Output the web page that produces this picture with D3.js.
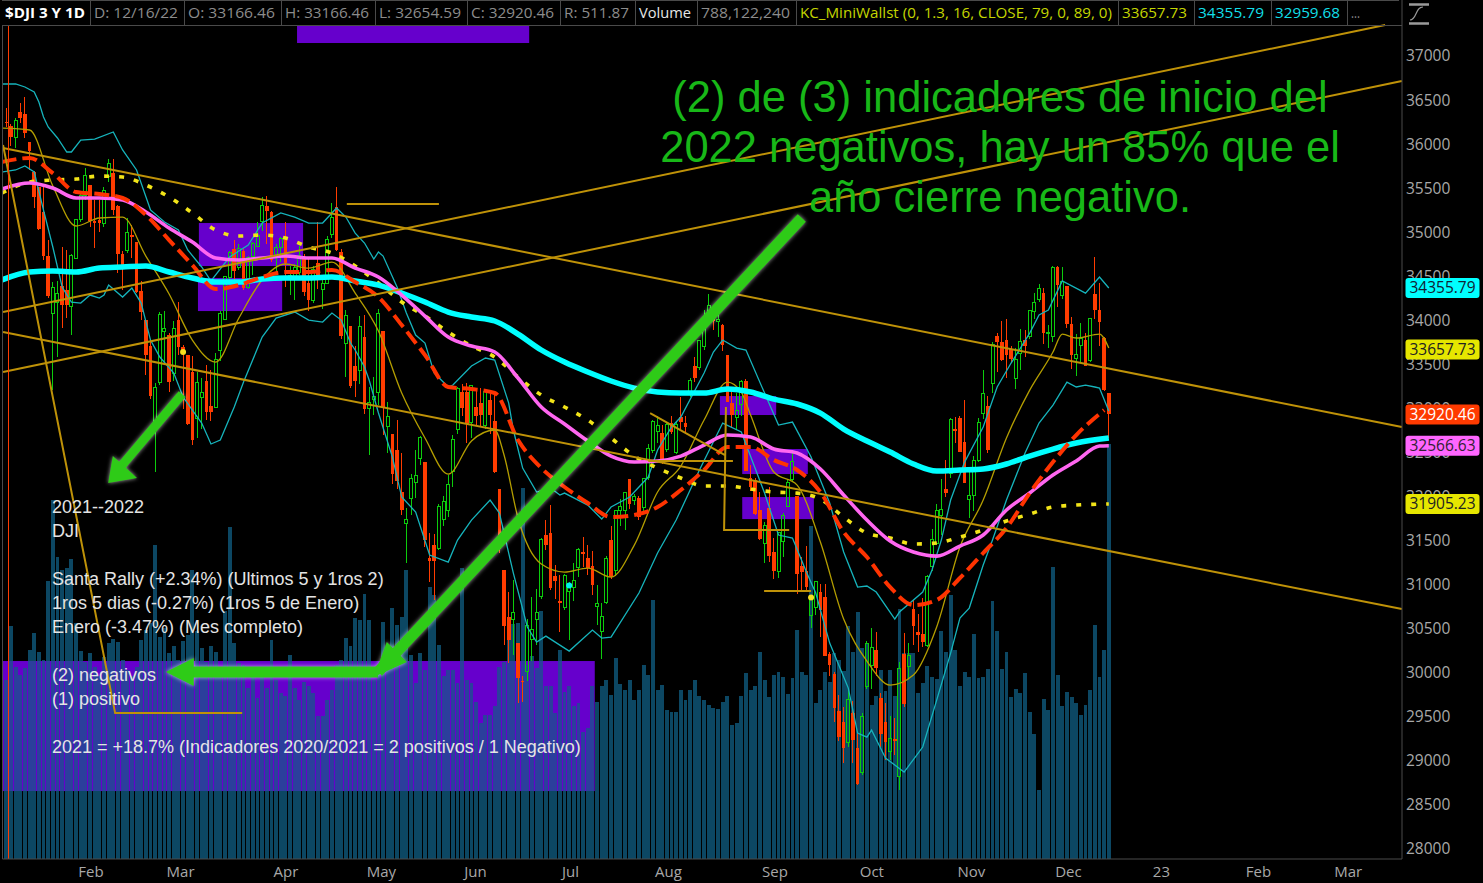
<!DOCTYPE html>
<html><head><meta charset="utf-8">
<script src="https://cdn.jsdelivr.net/npm/d3@7"></script>
<style>
html,body{margin:0;padding:0;background:#000;overflow:hidden}
svg{display:block}
text{font-family:"Open Sans",sans-serif}
</style></head><body><svg id="c" width="1483" height="883"></svg>
<script>
// ---- daily candles (index 0 = first visible session, 237 = 12/16/22) ----
const opens=[36240,36190,36060,36350,36330,36010,35670,35500,35215,34715,
34070,34190,34380,34330,34140,34690,35130,35400,35530,35120,
35130,35090,35620,35660,35290,34740,34780,34960,34880,34320,
33990,33700,32845,33280,33860,33820,33390,33990,33690,33600,
33400,32870,33115,33300,33020,33000,33650,34000,34480,34800,
34590,34770,34360,34710,34830,35110,35290,35220,34720,34810,
34900,34480,34480,34530,34700,34410,34210,34640,34340,34410,
34960,35280,34760,33730,33920,33470,33420,33800,32990,33090,
33170,33870,32780,32700,32520,32040,31680,31970,32150,32420,
32380,31290,31440,31400,31730,31830,32270,32750,33180,33180,
32830,33000,33050,32790,33080,32850,32070,31160,30620,30590,
30330,29900,30000,30370,30590,30850,31550,31570,31090,30800,
30730,30910,30960,31180,31360,31290,31200,30740,30460,30790,
31500,31150,31830,31830,32190,31940,31970,31870,32200,32510,
32730,32710,32520,32820,32490,32890,32820,33170,33470,33450,
33690,34010,34040,33980,33940,33600,33050,32890,33030,33300,
32200,32180,31840,31460,31860,31360,31140,31480,31880,32180,
32000,31200,31140,30640,30730,30910,30850,30200,29970,29550,
29430,29200,29530,29130,28860,29830,30070,30250,29700,29430,
29090,29240,28810,30200,30060,30710,30450,30430,30300,31190,
31460,31770,32075,32250,32760,32880,32610,31960,32000,32400,
32930,33020,33270,33810,33740,33770,33660,33330,33610,33770,
33800,34090,34220,34300,33840,33800,34590,34270,34380,33950,
33560,33700,33770,33530,34290,34110,33790,33166];
const highs=[36400,36220,36290,36460,36520,36010,35680,35500,35500,34900,
34420,34440,34820,34790,34740,35140,35420,35720,35530,35350,
35350,35500,35820,35820,35300,34770,35150,35070,34880,34430,
33990,33780,33280,34080,34100,33850,33980,34200,33710,33600,
33580,33400,33330,33480,33420,33620,34100,34490,34770,34900,
34850,34800,34720,34880,35100,35390,35400,35230,34860,34930,
35100,34600,34630,34830,34740,34700,34600,35100,34480,34950,
35320,35500,34800,34110,33930,33700,34040,34050,33230,33340,
34120,33870,33060,32700,32860,32480,31858,32250,32520,32680,
32380,31570,31560,31900,32000,32230,32690,33230,33270,33280,
33250,33200,33220,33190,33200,33140,32070,31160,30900,31040,
30330,29950,30600,30850,30940,31520,31720,31890,31210,31100,
31110,31020,31240,31400,31530,31440,31370,30980,30780,31310,
31650,31840,31960,32040,32190,32020,32000,32200,32580,32860,
32900,32800,32830,32900,32850,33120,32900,33330,33570,33770,
34110,34290,34130,34100,33950,33600,33180,33160,33310,33320,
32350,32200,32040,31700,32100,31520,31580,31800,32180,32520,
32000,31300,31430,30830,31020,31000,31000,30230,30000,29740,
29600,29800,29670,29300,29530,30350,30500,30450,29760,29650,
29500,29470,30110,30440,30330,30810,30660,30840,31100,31620,
31900,32190,32400,32880,32890,32900,33090,32270,32450,32880,
33430,33130,33740,33840,33980,34000,33700,33680,33890,33880,
34110,34300,34400,34350,33935,34600,34600,34595,34380,34030,
33830,33960,33850,34010,34712,34410,33800,33166];
const lows=[36180,35965,35950,36230,36060,35690,35260,35010,34670,34240,
33200,33570,33900,34020,33820,34680,35100,35350,35050,34810,
34990,35050,35560,35180,34530,34330,34750,34700,34300,33990,
33370,33100,32272,33250,33500,33170,33300,33600,32980,32800,
32570,32650,32760,32860,32850,32990,33530,33990,34420,34400,
34560,34330,34340,34500,34820,35000,34850,34650,34540,34650,
34370,34276,34220,34500,34270,34100,34190,34340,34120,34400,
34920,34780,33780,33340,33220,33120,33270,32920,32460,32910,
33030,32690,32480,32130,32070,31780,31235,31780,31970,32350,
31420,31020,30810,31380,31650,31760,32100,32700,32900,32600,
32650,32800,32780,32760,32700,32260,31350,30300,30100,30190,
29650,29653,29890,30120,30300,30830,31380,30930,30830,30450,
30700,30360,30800,31080,31190,31100,30870,30530,30140,30770,
31050,31090,31660,31610,31850,31890,31720,31820,32180,32480,
32600,32360,32500,32700,32470,32760,32700,33120,33290,33430,
33650,33990,33880,33800,33640,33060,32770,32740,32900,32280,
32050,31780,31500,31230,31250,31050,31060,31300,31880,32160,
30880,30900,30900,30500,30640,30400,30180,29950,29430,29220,
28960,29150,28970,28715,28830,29800,29800,29950,29150,29000,
29000,29050,28660,29600,29920,30300,30220,30280,30280,31140,
31440,31550,31980,32200,32600,32500,32140,31750,31820,32380,
32870,32480,33160,33400,33530,33330,33500,33210,33430,33570,
33780,34000,34200,33720,33670,33740,34140,34230,33900,33440,
33360,33500,33470,33520,34000,33700,33190,32654];
const closes=[36231,36068,36252,36290,36113,35911,35385,35030,34715,34265,
34364,34297,34168,34160,34725,35131,35405,35629,35111,35089,
35091,35462,35768,35241,34738,34566,34988,34934,34312,34079,
33596,33131,33223,34058,33892,33294,33891,33690,33614,32817,
32632,33286,33174,32944,32945,33544,34063,34481,34754,34552,
34807,34358,34707,34861,34955,35294,35228,34678,34818,34921,
34641,34496,34583,34721,34308,34221,34565,34451,34411,34911,
35160,34792,33811,34049,33240,33301,33916,32977,33061,33128,
34061,32997,32899,32245,32160,31834,31730,32197,32223,32654,
31490,31253,31262,31880,31928,32120,32637,33213,32990,32813,
33248,32899,32915,33180,32910,32272,31392,30516,30364,30668,
29927,29888,30530,30483,30677,31500,31438,30946,31029,30775,
31097,30967,31037,31384,31338,31173,30981,30772,30630,31288,
31072,31827,31874,32036,31899,31990,31761,32197,32529,32845,
32798,32396,32812,32726,32803,32832,32774,33309,33336,33761,
33912,34152,33980,33999,33706,33063,32909,32969,33291,32283,
32098,31790,31510,31656,31318,31145,31581,31774,32151,32381,
31105,31135,30961,30822,31019,30706,30184,30077,29590,29260,
29134,29683,29225,28725,29490,30316,30274,30038,29296,29202,
29239,29210,30038,29634,30185,30523,30423,30333,31082,31499,
31836,31839,32033,32861,32733,32500,32148,32001,32403,32827,
33160,32513,33715,33747,33536,33592,33553,33546,33745,33700,
34098,34194,34347,33849,33853,34589,34395,34430,33947,33596,
33597,33781,33476,34005,34108,33966,33202,32920];
// volume in millions
const volumes=[340,443,365,350,362,397,429,393,378,527,
682,574,549,552,570,448,395,375,391,365,
347,384,410,418,412,378,359,347,365,416,
435,448,597,422,438,391,404,378,414,426,
549,432,400,375,404,394,365,470,630,410,
372,369,324,353,305,347,324,416,340,315,
309,388,324,302,337,328,315,271,271,302,
321,369,378,419,404,457,454,503,454,340,
365,450,397,476,445,460,548,388,334,391,
359,517,502,407,347,359,359,334,552,340,
334,299,258,274,274,290,365,375,416,447,
448,704,369,385,362,470,328,328,277,397,
318,328,290,296,242,248,328,299,328,339,
312,381,333,321,340,302,321,369,350,492,
321,331,283,279,279,321,302,321,340,310,
302,293,287,285,299,310,255,258,310,353,
321,329,393,340,307,350,356,345,314,344,
435,356,350,632,296,321,356,337,391,378,
357,442,394,469,400,410,293,310,359,319,
359,309,475,391,391,391,316,335,366,345,
342,432,394,502,396,328,356,346,427,343,
345,360,490,432,360,393,307,322,315,353,
279,238,131,303,283,554,350,291,317,307,
296,274,293,321,445,346,396,788];
// moving averages sampled every few sessions
const maIdx=[-1,5,10,15,20,25,30,35,40,45,50,55,60,65,70,75,80,85,90,95,100,105,110,115,120,125,130,135,140,145,150,155,160,165,170,175,180,185,190,195,200,205,210,215,220,225,230];
const sma200=[34446,34537,34548,34537,34582,34594,34605,34537,34469,34423,34423,34457,34469,34469,34480,34435,34389,34299,34196,34083,34026,33981,33833,33652,33515,33402,33300,33220,33175,33163,33163,33209,33175,33095,33039,32936,32755,32619,32494,32358,32278,32289,32301,32358,32448,32528,32596,32653];
const sma100=[35479,35547,35490,35377,35377,35354,35218,35036,34877,34696,34673,34696,34718,34696,34696,34582,34480,34276,34037,33799,33697,33629,33334,33005,32812,32619,32448,32380,32392,32448,32573,32687,32664,32528,32483,32301,32006,31722,31484,31359,31313,31427,31552,31836,32029,32233,32392,32562,32566];
const sma150=[35433,35558,35581,35592,35626,35615,35524,35388,35207,35014,34945,34957,34923,34821,34752,34605,34412,34196,34037,33856,33697,33572,33345,33141,33005,32857,32653,32448,32312,32199,32108,32108,32074,32040,32028,31960,31756,31574,31518,31450,31461,31529,31609,31711,31790,31870,31892,31905];
const ema50=[35785,35831,35660,35445,35422,35377,35184,34900,34616,34344,34389,34480,34537,34537,34560,34423,34253,33935,33595,33232,33209,33164,32630,32312,32097,31915,31756,31779,31870,32063,32290,32551,32551,32403,32290,32040,31586,31302,30961,30757,30814,31064,31348,31631,32029,32380,32687,32970];
const sma200Last=[237], sma100Last=[235,237], sma150Last=[237], ema50Last=[236];
// Keltner channel
const midIdx=[-1,5,10,15,20,25,30,35,40,45,50,55,60,65,70,75,80,85,90,95,100,105,107,110,115,120,125,130,135,140,145,150,155,158,160,165,170,175,180,185,190,195,200,205,210,215,220,225,227,230,235,237];
const kcMid=[36171,36149,35513,35059,35150,35161,34718,34287,33765,33515,34015,34446,34628,34582,34650,34298,33867,33163,32653,32244,32619,32744,32460,31745,31223,31132,31177,31075,31438,32040,32335,32857,33288,33175,32914,32267,32119,31472,30598,30122,29849,29963,30508,31416,31949,32653,33197,33629,33833,33788,33833,33674];
const upIdx=[-1,2,4,6,7,8,9,11,13,14,16,19,23,25,28,31,34,37,39,42,44,48,52,55,59,62,65,68,71,73,75,77,79,80,81,84,86,88,90,92,95,96,100,103,105,108,109,111,114,117,119,120,125,128,130,134,138,140,143,145,150,152,154,157,159,163,166,169,173,177,180,183,185,187,191,192,197,199,201,203,206,210,213,216,220,222,224,227,232,235,237];
const kcUpper=[36671,36671,36637,36580,36466,36296,36183,36058,35899,35899,36035,36046,36126,35922,35695,35241,35104,35014,34787,34594,34435,34707,34843,35093,35207,35161,35093,35093,35263,35161,34979,34866,34684,34764,34718,34367,34071,33822,33731,33390,33232,33254,33470,33561,33538,33050,32744,32312,32040,32085,32006,32028,31892,31733,31870,31983,32210,32517,32778,32891,33390,33629,33765,33674,33652,33163,32800,32834,32437,31915,31359,30961,30973,30905,30598,30678,30905,31155,31495,31949,32380,32778,33232,33504,33844,34049,34105,34435,34298,34480,34356];
const lowIdx=[-1,2,4,6,8,10,12,14,16,18,20,21,22,25,27,29,31,33,36,38,42,44,46,49,51,55,58,62,65,68,70,72,74,75,77,78,80,83,85,88,91,95,97,100,104,106,109,112,114,116,121,126,128,130,136,140,144,149,154,158,163,166,169,172,174,177,181,183,185,186,189,193,197,200,203,205,207,210,212,215,219,222,225,228,230,232,234,235,237];
const kcLower=[35672,35695,35740,35672,35240,34821,34367,34196,34185,34276,34242,34276,34389,34253,34355,34185,33765,33572,33390,33118,32823,32585,32630,33005,33288,33799,34015,34083,33992,33969,34071,33992,33731,33652,33459,33311,32937,32437,31983,31813,31325,31245,31495,31722,31949,31802,31120,30508,30337,30405,30235,30474,30383,30394,30894,31348,31722,32290,32823,32721,32028,31552,31518,31132,30894,30326,29815,29305,29259,29339,29021,28862,29146,29679,30212,30610,30723,31211,31495,31949,32483,32823,33027,33288,33232,33254,33232,33220,32960];
// axis
const priceTicks=d3.range(28000,37001,500);
const monthIdx=[16,35,58,78,99,120,140,163,184,205,226,247,267,286];
const monthLabels=["Feb","Mar","Apr","May","Jun","Jul","Aug","Sep","Oct","Nov","Dec","23","Feb","Mar"];
// header cells
const headTxt=["$DJI 3 Y 1D","D: 12/16/22","O: 33166.46","H: 33166.46","L: 32654.59","C: 32920.46","R: 511.87","Volume","788,122,240","KC_MiniWallst (0, 1.3, 16, CLOSE, 79, 0, 89, 0)","33657.73","34355.79","32959.68","..."];
const headStart=[5,94,188,285,379,471,564,639,701,800,1122,1198,1275,1351];
const headEnd=[85,178,275,369,461,554,629,691,790,1112,1187,1264,1340,1360];
const headCol=["#fff","#8c8c8c","#8c8c8c","#8c8c8c","#8c8c8c","#8c8c8c","#8c8c8c","#e6e6e6","#8c8c8c","#c4d600","#c4d600","#12dfe8","#12dfe8","#8c8c8c"];
const headSep=[90,184,281,375,467,560,635,697,796,1118,1194,1271,1347];
// price badges
const badgeVal=[34355.79,33657.73,32920.46,32566.63,31905.23];
const badgeBg=["#00ffff","#e6e600","#ff3a00","#ff66ff","#e6e600"];
const badgeFg=["#123","#222","#fff","#323","#222"];
// drawings (bar index, price)
const goldLines=[
 [[-0.7,35944],[300,32778]],[[-0.7,33856],[300,30712]],
 [[-0.7,34083],[296.4,37340]],[[-0.7,33402],[300,36705]],
 [[-0.7,35978],[23.4,29531],[50.7,29531]],[[73.2,35309],[93,35309]],
 [[138.4,32936],[154.5,32460]],[[138,32392],[156.2,32392]],
 [[154.7,33005],[154.3,31608],[168.3,31608]],[[162.9,30916],[173,30916]]];
const boxK0=[62.5,41.4,41.2,153.4,158.2,158.2];
const boxK1=[112.4,63.8,59.3,165.5,172.3,173.6];
const boxHi=[37340,35093,34469,33129,32528,31983];
const boxLo=[37136,34605,34094,32914,32244,31733];
const bigBox=[-0.9,126.5,30122,28646];
const dotK=[38,173,121], dotP=[33629,30844,30980], dotC=["#f5e020","#f5e020","#00f0f0"];
const arrowShaft=[[[171,35150],[79.9,29997]],[[79.9,29997],[37.3,29997]],[[37.8,33152],[24.9,32346]]];
const arrowHead=[[[79,29940],[81.8,30337],[86.1,30110]],[[34.3,29997],[40.3,30156],[40.3,29838]],[[21.9,32142],[22.9,32448],[28.1,32199]]];
const noteLines=["2021--2022","DJI","Santa Rally (+2.34%) (Ultimos 5 y 1ros 2)","1ros 5 dias (-0.27%) (1ros 5 de Enero)","Enero (-3.47%) (Mes completo)","(2) negativos","(1) positivo","2021 = +18.7% (Indicadores 2020/2021 = 2 positivos / 1 Negativo)"];
const noteP=[31801,31529,30984,30712,30440,29895,29622,29077];
const titleLines=["(2) de (3) indicadores de inicio del","2022 negativos, hay un 85% que el","año cierre negativo."];
const titleP=[36353,35785,35218];

const svg=d3.select("#c");
const x=d3.scaleLinear().domain([0,237]).range([6.3,1108.8]);
const y=d3.scaleLinear().domain([28000,37000]).range([848,55]);
const yv=d3.scaleLinear().domain([0,788]).range([859,444]);
const bottom=859, right=1402;
const g=svg.append("g");

// boxes
g.append("rect").attr("x",x(bigBox[0])).attr("width",x(bigBox[1])-x(bigBox[0])).attr("y",y(bigBox[2])).attr("height",y(bigBox[3])-y(bigBox[2])).attr("fill","#6600cc");
g.selectAll(".box").data(boxK0).join("rect").attr("x",d=>x(d)).attr("width",(d,i)=>x(boxK1[i])-x(d)).attr("y",(d,i)=>y(boxHi[i])).attr("height",(d,i)=>y(boxLo[i])-y(boxHi[i])).attr("fill","#6600cc");

// volume
const barW=3.9;
function bars(sel,col){sel.selectAll("rect").data(volumes).join("rect").attr("x",(d,i)=>x(i)-barW/2).attr("width",barW).attr("y",d=>yv(d)).attr("height",d=>bottom-yv(d)).attr("fill",col).attr("shape-rendering","crispEdges");}
bars(g.append("g"),"#0c4763");
svg.append("clipPath").attr("id","bb").append("rect").attr("x",x(bigBox[0])).attr("width",x(bigBox[1])-x(bigBox[0])).attr("y",y(bigBox[2])).attr("height",y(bigBox[3])-y(bigBox[2]));
bars(g.append("g").attr("clip-path","url(#bb)"),"#2b3f9c");

// candles
const candleG=g.append("g").attr("shape-rendering","crispEdges");
closes.forEach((c,i)=>{
  const o=opens[i],hi=highs[i],lo=lows[i],up=c>=o,col=up?"#0ccc0c":"#ff3c00";
  const t=Math.max(o,c),b=Math.min(o,c),px=x(i);
  candleG.append("line").attr("x1",px).attr("x2",px).attr("y1",y(hi)).attr("y2",y(t)).attr("stroke",col);
  candleG.append("line").attr("x1",px).attr("x2",px).attr("y1",y(b)).attr("y2",y(lo)).attr("stroke",col);
  const h=Math.max(1.5,y(b)-y(t));
  if(up) candleG.append("rect").attr("x",px-1.5).attr("width",3).attr("y",y(t)).attr("height",h).attr("fill","none").attr("stroke",col);
  else candleG.append("rect").attr("x",px-1.8).attr("width",3.6).attr("y",y(t)).attr("height",h).attr("fill",col);
});

// lines
svg.append("clipPath").attr("id","plot").append("rect").attr("x",3).attr("y",26).attr("width",1399).attr("height",833);
const lines=g.append("g").attr("clip-path","url(#plot)");
const ln=d3.line().x(d=>x(d[0])).y(d=>y(d[1]));
function pairs(ix,vals){return ix.map((k,i)=>[k,vals[i]]);}
function draw(par,data,col,w,dash,cv){const p=par.append("path").attr("d",ln.curve(cv)(data)).attr("fill","none").attr("stroke",col).attr("stroke-width",w);if(dash)p.attr("stroke-dasharray",dash);}
draw(lines,pairs(upIdx,kcUpper),"#16b4bc",1.3,null,d3.curveLinear);
draw(lines,pairs(lowIdx,kcLower),"#16b4bc",1.3,null,d3.curveLinear);
draw(lines,pairs(midIdx,kcMid),"#b49e00",1.3,null,d3.curveMonotoneX);
draw(lines,pairs(maIdx.concat(sma150Last),sma150),"#f2e418",3.6,"5 10",d3.curveMonotoneX);
draw(lines,pairs(maIdx.concat(sma200Last),sma200),"#00ffff",5.5,null,d3.curveMonotoneX);
draw(lines,pairs(maIdx.concat(sma100Last),sma100),"#ff66f0",3.6,null,d3.curveMonotoneX);
draw(lines,pairs(maIdx.concat(ema50Last),ema50),"#ff3300",4,"15 6",d3.curveMonotoneX);

// trend lines
goldLines.forEach(l=>draw(g,l,"#bf9208",2,null,d3.curveLinear));
// dots
g.selectAll(".dot").data(dotK).join("circle").attr("cx",d=>x(d)).attr("cy",(d,i)=>y(dotP[i])).attr("r",3).attr("fill",(d,i)=>dotC[i]);

// orange vertical
g.append("line").attr("x1",8.5).attr("x2",8.5).attr("y1",25).attr("y2",bottom).attr("stroke","#ff3c00").attr("stroke-width",1);

// frame
g.append("path").attr("d",`M2.5,25V${bottom}H${right}V0`).attr("fill","none").attr("stroke","#4a4a4a");
g.append("path").attr("d",`M2,0.5H${right-3}M2,25.5H${right}`).attr("fill","none").attr("stroke","#4a4a4a");
g.selectAll(".sep").data(headSep).join("line").attr("x1",d=>d+.5).attr("x2",d=>d+.5).attr("y1",0).attr("y2",25).attr("stroke","#4a4a4a");
g.selectAll(".ht").data(headTxt).join("text").attr("x",(d,i)=>headStart[i]).attr("y",18).attr("font-size",15).attr("fill",(d,i)=>headCol[i]).attr("font-weight",(d,i)=>i==0?700:400).attr("textLength",(d,i)=>headEnd[i]-headStart[i]).attr("lengthAdjust","spacingAndGlyphs").text(d=>d);

// axes
const ya=g.append("g").attr("transform",`translate(${right},1)`).call(d3.axisRight(y).tickValues(priceTicks).tickSize(0).tickPadding(4).tickFormat(d3.format("d")));
ya.select(".domain").remove();
ya.selectAll("text").attr("fill","#a8a8a8").attr("font-size",15.5).attr("font-family",'"Open Sans"');
const xa=g.append("g").attr("transform",`translate(0,${bottom+1})`).call(d3.axisBottom(x).tickValues(monthIdx).tickSize(0).tickPadding(6).tickFormat((d,i)=>monthLabels[i]));
xa.select(".domain").remove();
xa.selectAll("text").attr("fill","#a8a8a8").attr("font-size",15).attr("font-family",'"Open Sans"').attr("text-anchor","start").attr("dx",-3);

// icon
g.append("path").attr("d","M1409,4.5H1429M1409,23.5H1429").attr("stroke","#9a9a9a").attr("stroke-width",2.5);
g.append("path").attr("d","M1410,20C1417,20 1415,7 1423,7").attr("fill","none").attr("stroke","#9a9a9a").attr("stroke-width",1.2);

// badges
const bg=g.selectAll(".badge").data(badgeVal).join("g");
bg.append("rect").attr("x",1405.5).attr("width",74).attr("y",d=>y(d)-10).attr("height",20).attr("rx",3).attr("fill",(d,i)=>badgeBg[i]);
bg.append("text").attr("x",1442.5).attr("y",d=>y(d)+5.5).attr("text-anchor","middle").attr("font-size",15.5).attr("fill",(d,i)=>badgeFg[i]).text(d=>d.toFixed(2));

// notes
g.selectAll(".note").data(noteLines).join("text").attr("x",52).attr("y",(d,i)=>y(noteP[i])).attr("font-size",18).attr("fill","#e4e4e4").style("font-family",'"Liberation Sans"').text(d=>d);

// arrows
const arr=g.append("g").style("filter","drop-shadow(0 0 2px rgba(255,255,255,.65))");
arrowShaft.forEach((s,i)=>arr.append("line").attr("x1",x(s[0][0])).attr("y1",y(s[0][1])).attr("x2",x(s[1][0])).attr("y2",y(s[1][1])).attr("stroke","#2ecb17").attr("stroke-width",i==2?9:11));
arrowHead.forEach(h=>arr.append("polygon").attr("points",h.map(p=>x(p[0])+","+y(p[1])).join(" ")).attr("fill","#2ecb17"));

// title
g.selectAll(".title").data(titleLines).join("text").attr("x",1000).attr("y",(d,i)=>y(titleP[i])).attr("text-anchor","middle").attr("font-size",43.5).attr("fill","#18b818").style("font-family",'"Liberation Sans"').text(d=>d);
</script></body></html>
